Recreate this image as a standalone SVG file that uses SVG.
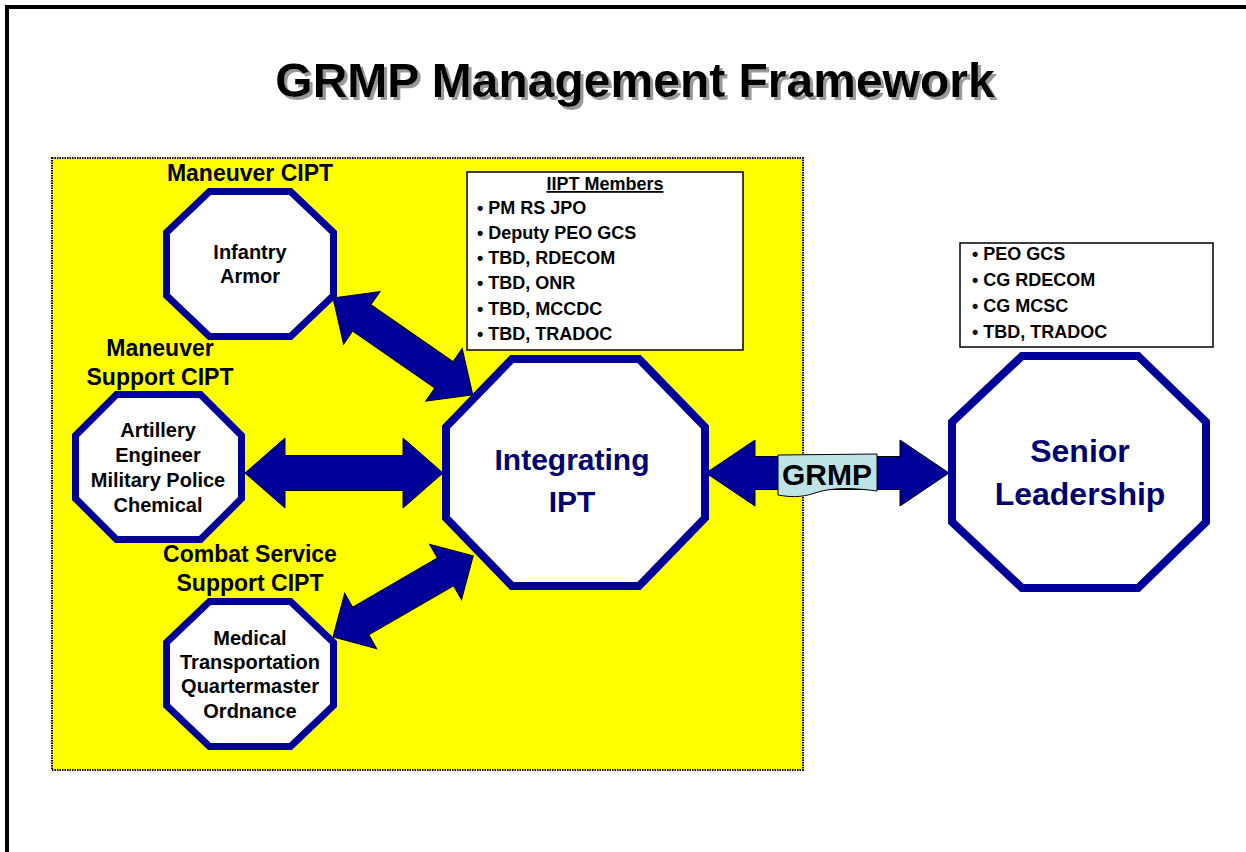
<svg xmlns="http://www.w3.org/2000/svg" width="1246" height="852" viewBox="0 0 1246 852">
  <defs>
    <style>
      text { font-family: "Liberation Sans", Arial, sans-serif; font-weight: bold; }
      .oct { fill: #ffffff; stroke: #000099; stroke-width: 7; stroke-linejoin: miter; }
      .oct-big { fill: #ffffff; stroke: #000099; stroke-width: 8; stroke-linejoin: miter; }
      .arrow { fill: #000099; stroke: #000000; stroke-width: 1; stroke-linejoin: miter; }
      .lbl { font-size: 23px; fill: #000000; text-anchor: middle; }
      .inner { font-size: 20px; fill: #000000; text-anchor: middle; }
      .big { fill: #000070; text-anchor: middle; }
      .item { font-size: 18px; fill: #000000; }
      .box { fill: #ffffff; stroke: #000000; stroke-width: 1.5; }
    </style>
    <!-- grey drop shadow for the heading -->
    <filter id="shadow" x="-5%" y="-20%" width="110%" height="150%">
      <feFlood flood-color="#999999" result="grey"/>
      <feComposite in="grey" in2="SourceAlpha" operator="in" result="shape"/>
      <feOffset in="shape" dx="3" dy="3" result="offset"/>
      <feMerge>
        <feMergeNode in="offset"/>
        <feMergeNode in="SourceGraphic"/>
      </feMerge>
    </filter>
  </defs>

  <!-- page background and frame -->
  <rect x="0" y="0" width="1246" height="852" fill="#ffffff"/>
  <rect x="7" y="7" width="1260" height="900" fill="none" stroke="#000000" stroke-width="4"/>

  <!-- title -->
  <g id="title">
    <text x="635" y="97" font-size="48" fill="#000000" text-anchor="middle" filter="url(#shadow)">GRMP Management Framework</text>
  </g>

  <!-- yellow CIPT / IIPT area -->
  <rect id="cipt-area" x="52" y="158" width="751" height="612" fill="#ffff00" stroke="#000000" stroke-width="2" stroke-dasharray="1.5 1"/>

  <!-- connectors: double-headed block arrows -->
  <g id="connectors">
    <polygon class="arrow" transform="translate(333,298) rotate(34.7)" points="0,0 35,-32 35,-16 135,-16 135,-32 170,0 135,32 135,16 35,16 35,32"/>
    <polygon class="arrow" transform="translate(245,473)" points="0,0 40,-35 40,-17.5 158,-17.5 158,-35 198,0 158,35 158,17.5 40,17.5 40,35"/>
    <polygon class="arrow" transform="translate(333,637) rotate(-30.05)" points="0,0 32,-32 32,-16 130,-16 130,-32 162,0 130,32 130,16 32,16 32,32"/>
    <polygon class="arrow" transform="translate(706,473)" points="0,0 49,-33 49,-16.5 194,-16.5 194,-33 243,0 194,33 194,16.5 49,16.5 49,33"/>
    <g id="grmp-label">
      <path d="M778,455 L877,454 L877,491 C855,488 832,487 815,493 C800,498 790,497 778,495 Z" fill="#bde3e6" stroke="#000000" stroke-width="1"/>
      <text x="827" y="485" font-size="30" fill="#000000" text-anchor="middle">GRMP</text>
    </g>
  </g>

  <!-- Maneuver CIPT -->
  <g id="maneuver-cipt">
    <text class="lbl" x="250" y="181">Maneuver CIPT</text>
    <polygon class="oct" points="209.5,191.5 290.5,191.5 333.5,232.5 333.5,295.5 290.5,336.5 209.5,336.5 166.5,295.5 166.5,232.5"/>
    <text class="inner" x="250" y="259">Infantry</text>
    <text class="inner" x="250" y="283">Armor</text>
  </g>

  <!-- Maneuver Support CIPT -->
  <g id="maneuver-support-cipt">
    <text class="lbl" x="160" y="356">Maneuver</text>
    <text class="lbl" x="160" y="385">Support CIPT</text>
    <polygon class="oct" points="116.5,394.5 200.5,394.5 241.5,435.5 241.5,498.5 200.5,539.5 116.5,539.5 75.5,498.5 75.5,435.5"/>
    <text class="inner" x="158" y="437">Artillery</text>
    <text class="inner" x="158" y="462">Engineer</text>
    <text class="inner" x="158" y="487">Military Police</text>
    <text class="inner" x="158" y="512">Chemical</text>
  </g>

  <!-- Combat Service Support CIPT -->
  <g id="css-cipt">
    <text class="lbl" x="250" y="562">Combat Service</text>
    <text class="lbl" x="250" y="591">Support CIPT</text>
    <polygon class="oct" points="209.5,601.5 290.5,601.5 333.5,642.5 333.5,705.5 290.5,746.5 209.5,746.5 166.5,705.5 166.5,642.5"/>
    <text class="inner" x="250" y="645">Medical</text>
    <text class="inner" x="250" y="669">Transportation</text>
    <text class="inner" x="250" y="693">Quartermaster</text>
    <text class="inner" x="250" y="718">Ordnance</text>
  </g>

  <!-- Integrating IPT -->
  <g id="integrating-ipt">
    <polygon class="oct-big" points="512,359 639,359 705,427 705,518 639,586 512,586 446,518 446,427"/>
    <text class="big" x="572" y="470" font-size="30">Integrating</text>
    <text class="big" x="572" y="512" font-size="30">IPT</text>
  </g>

  <!-- IIPT member list -->
  <g id="iipt-members">
    <rect class="box" x="467" y="172" width="276" height="178"/>
    <text class="item" x="605" y="190" text-anchor="middle" text-decoration="underline">IIPT Members</text>
    <text class="item" x="477" y="214">• PM RS JPO</text>
    <text class="item" x="477" y="239">• Deputy PEO GCS</text>
    <text class="item" x="477" y="264">• TBD, RDECOM</text>
    <text class="item" x="477" y="289">• TBD, ONR</text>
    <text class="item" x="477" y="315">• TBD, MCCDC</text>
    <text class="item" x="477" y="340">• TBD, TRADOC</text>
  </g>

  <!-- Senior Leadership member list -->
  <g id="senior-members">
    <rect class="box" x="960" y="243" width="253" height="104"/>
    <text class="item" x="972" y="260">• PEO GCS</text>
    <text class="item" x="972" y="286">• CG RDECOM</text>
    <text class="item" x="972" y="312">• CG MCSC</text>
    <text class="item" x="972" y="338">• TBD, TRADOC</text>
  </g>

  <!-- Senior Leadership -->
  <g id="senior-leadership">
    <polygon class="oct-big" points="1022,356 1138,356 1206,422 1206,522 1138,588 1022,588 952,522 952,422"/>
    <text class="big" x="1080" y="462" font-size="32">Senior</text>
    <text class="big" x="1080" y="505" font-size="32">Leadership</text>
  </g>
</svg>
